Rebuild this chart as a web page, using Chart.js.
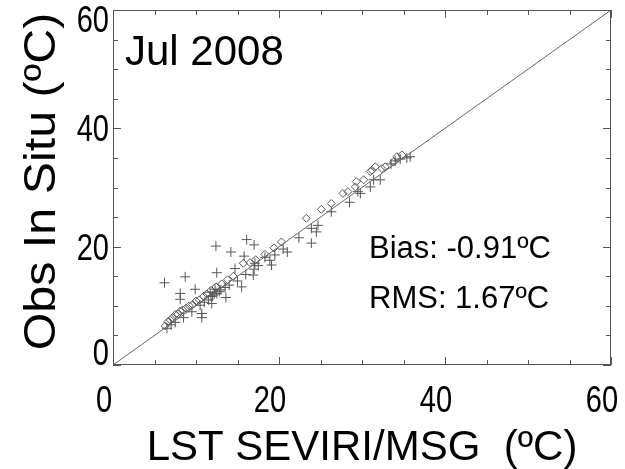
<!DOCTYPE html>
<html>
<head>
<meta charset="utf-8">
<script src="https://cdn.jsdelivr.net/npm/chart.js@4/dist/chart.umd.min.js"></script>
<style>
  html, body { margin: 0; padding: 0; background: #fff; }
  #wrap { width: 625px; height: 469px; }
</style>
</head>
<body>
<div id="wrap"><canvas id="c" width="625" height="469"></canvas></div>
<script>
// ---- data ----
const diamondX = [6.3, 6.6, 6.9, 7.2, 7.5, 7.8, 8.1, 8.4, 8.8, 9.2, 9.6, 10.0, 10.4, 10.9, 11.3, 11.8, 12.4, 13.1, 13.8, 14.5, 15.7, 16.5, 17.2, 18.3, 19.4, 20.3, 23.3, 25.1, 26.3, 27.7, 28.3, 29.2, 29.3, 30.2, 31.0, 31.2, 31.6, 32.4, 32.8, 33.8, 34.2, 34.8];
const diamondY = [6.6, 7.3, 7.6, 8.0, 8.5, 8.6, 9.1, 9.3, 9.6, 10.0, 10.2, 10.8, 11.0, 11.6, 12.0, 12.6, 13.2, 13.7, 14.4, 15.0, 17.2, 17.3, 17.8, 18.7, 19.8, 20.8, 24.8, 26.3, 27.3, 29.0, 29.3, 30.1, 31.0, 31.3, 32.7, 32.9, 33.5, 33.2, 33.5, 34.3, 35.2, 35.5];

const plusX = [6.2, 8.7, 8.1, 8.1, 9.9, 10.7, 10.7, 11.9, 12.5, 12.4, 14.2, 13.6, 15.5, 14.7, 15.8, 16.1, 17.0, 16.9, 17.1, 18.9, 19.1, 18.3, 21.0, 22.4, 23.9, 23.9, 24.7, 24.5, 26.3, 28.5, 29.5, 31.4, 29.8, 31.0, 32.2, 34.6, 35.4, 35.8, 33.5, 34.0,
               6.5, 7.0, 7.5, 8.5, 9.5, 10.5, 11.0, 11.5, 11.8, 12.0, 12.2, 12.5, 12.8, 13.0, 13.5, 14.0, 15.0, 16.0, 17.0, 17.5, 19.5, 20.5, 11.7, 12.3];
const plusY = [13.9, 14.9, 12.1, 11.1, 12.8, 8.7, 8.0, 10.4, 15.6, 20.1, 19.1, 11.4, 13.2, 16.3, 18.4, 21.2, 20.3, 15.2, 17.2, 17.7, 16.9, 18.2, 19.1, 21.5, 20.6, 23.1, 23.6, 22.5, 25.9, 27.5, 29.3, 31.3, 29.0, 30.1, 31.3, 34.8, 35.0, 35.2, 34.0, 34.5,
               6.2, 6.8, 7.2, 8.0, 9.0, 10.1, 10.6, 11.0, 11.6, 11.7, 12.0, 12.1, 12.4, 12.7, 13.1, 13.5, 14.2, 15.3, 16.2, 16.8, 18.6, 19.6, 12.3, 12.8];

const oneToOne = [0, 60];
const tickLabels = ["0", "20", "40", "60"];
const tickValues = [0, 20, 40, 60];

const FONT = "'Liberation Sans', Arial, sans-serif";

function pairs(xs, ys) {
  return xs.map((x, i) => ({ x: x, y: ys[i] }));
}

// draws text a bit taller than wide, like the stretched original
function tallText(ctx, text, x, y, align) {
  ctx.save();
  ctx.translate(x, y);
  ctx.scale(1, 1.25);
  ctx.textAlign = align;
  ctx.textBaseline = "alphabetic";
  ctx.fillText(text, 0, 0);
  ctx.restore();
}

// frame, inward ticks, tick labels and text notes (IDL look)
const framePlugin = {
  id: "frame",
  afterDraw(chart) {
    const ctx = chart.ctx;
    const a = chart.chartArea;
    const xs = chart.scales.x;
    const ys = chart.scales.y;
    ctx.save();
    ctx.strokeStyle = "#555";
    ctx.lineWidth = 1;
    ctx.strokeRect(a.left + 0.5, a.top + 0.5, a.right - a.left - 1, a.bottom - a.top - 1);

    ctx.beginPath();
    for (let v = 0; v <= 60; v += 5) {
      const len = v % 20 === 0 ? 8 : 5;
      const px = Math.round(xs.getPixelForValue(v)) + 0.5;
      ctx.moveTo(px, a.bottom); ctx.lineTo(px, a.bottom - len);
      ctx.moveTo(px, a.top); ctx.lineTo(px, a.top + len);
      const py = Math.round(ys.getPixelForValue(v)) + 0.5;
      ctx.moveTo(a.left, py); ctx.lineTo(a.left + len, py);
      ctx.moveTo(a.right, py); ctx.lineTo(a.right - len, py);
    }
    ctx.stroke();

    // tick labels
    ctx.fillStyle = "#000";
    ctx.font = "29px " + FONT;
    tickValues.forEach((v, i) => {
      let py = ys.getPixelForValue(v) + 13;
      py = Math.min(Math.max(py, a.top + 22), a.bottom);
      tallText(ctx, tickLabels[i], a.left - 4, py, "right");
    });
    tickValues.forEach((v, i) => {
      const px = xs.getPixelForValue(v) - 9;
      tallText(ctx, tickLabels[i], px, a.bottom + 47, "center");
    });

    // y axis title, slightly stretched along its length
    ctx.save();
    ctx.translate(55, (a.top + a.bottom) / 2 - 6);
    ctx.rotate(-Math.PI / 2);
    ctx.scale(1.1, 1);
    ctx.font = "44px " + FONT;
    ctx.textAlign = "center";
    ctx.textBaseline = "alphabetic";
    ctx.fillText("Obs In Situ (ºC)", 0, 0);
    ctx.restore();

    // notes
    ctx.textAlign = "left";
    ctx.textBaseline = "alphabetic";
    ctx.font = "42px " + FONT;
    ctx.fillText("Jul 2008", a.left + 12, 65);
    ctx.font = "31px " + FONT;
    ctx.fillText("Bias: -0.91ºC", a.left + 256, 258);
    ctx.fillText("RMS: 1.67ºC", a.left + 256, 308);
    ctx.restore();
  }
};

new Chart(document.getElementById("c"), {
  type: "scatter",
  data: {
    datasets: [
      {
        label: "1:1",
        type: "line",
        data: pairs(oneToOne, oneToOne),
        borderColor: "#666",
        borderWidth: 1,
        pointRadius: 0,
        fill: false
      },
      {
        label: "plus",
        data: pairs(plusX, plusY),
        pointStyle: "cross",
        pointRadius: 5,
        borderColor: "#555",
        borderWidth: 1,
        backgroundColor: "#555"
      },
      {
        label: "diamond",
        data: pairs(diamondX, diamondY),
        pointStyle: "rectRot",
        pointRadius: 4,
        borderColor: "#555",
        borderWidth: 1,
        backgroundColor: "rgba(255,255,255,0)"
      }
    ]
  },
  options: {
    responsive: false,
    animation: false,
    events: [],
    layout: { padding: { top: 10, right: 14, left: 0, bottom: 0 } },
    plugins: {
      legend: { display: false },
      tooltip: { enabled: false }
    },
    scales: {
      x: {
        type: "linear",
        min: 0,
        max: 60,
        grid: { display: false },
        border: { display: false },
        ticks: { display: false },
        title: {
          display: true,
          text: "LST SEVIRI/MSG  (ºC)",
          color: "#000",
          font: { family: FONT, size: 42, lineHeight: 1 },
          padding: { top: 0, bottom: 0 }
        },
        afterFit(scale) { scale.height = 104; }
      },
      y: {
        type: "linear",
        min: 0,
        max: 60,
        grid: { display: false },
        border: { display: false },
        ticks: { display: false },
        title: { display: false },
        afterFit(scale) { scale.width = 113; }
      }
    }
  },
  plugins: [framePlugin]
});
</script>
</body>
</html>
